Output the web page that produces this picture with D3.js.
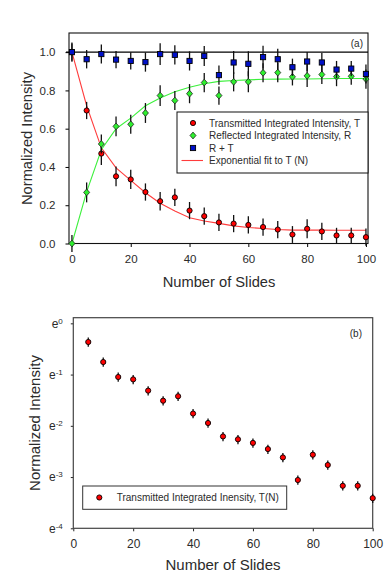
<!DOCTYPE html>
<html>
<head>
<meta charset="utf-8">
<script src="https://cdn.jsdelivr.net/npm/d3@7"></script>
<style>
  body { margin: 0; background: #fff; }
  svg { display: block; font-family: "Liberation Sans", Arial, sans-serif; }
</style>
</head>
<body>
<svg id="chart" width="391" height="577"></svg>
<script>
// number of slides for every measurement
const slides = [0, 5, 10, 15, 20, 25, 30, 35, 40, 45, 50, 55, 60, 65, 70, 75, 80, 85, 90, 95, 100];

// (a) transmitted, reflected and their sum, with error bars
const transmitted = [1.0, 0.695, 0.47, 0.351, 0.335, 0.269, 0.221, 0.241, 0.172, 0.143, 0.11,
  0.104, 0.097, 0.086, 0.073, 0.047, 0.077, 0.063, 0.042, 0.042, 0.033];
const transmittedErr = [0.045, 0.045, 0.06, 0.052, 0.05, 0.045, 0.048, 0.045, 0.045, 0.045, 0.045,
  0.045, 0.045, 0.045, 0.045, 0.044, 0.05, 0.045, 0.04, 0.04, 0.045];
const reflected = [0.0, 0.267, 0.52, 0.612, 0.623, 0.682, 0.773, 0.747, 0.783, 0.841, 0.773,
  0.845, 0.845, 0.892, 0.893, 0.871, 0.876, 0.883, 0.872, 0.874, 0.859];
const reflectedErr = [0.045, 0.052, 0.05, 0.052, 0.05, 0.052, 0.054, 0.05, 0.05, 0.05, 0.048,
  0.05, 0.055, 0.05, 0.05, 0.045, 0.058, 0.05, 0.05, 0.045, 0.05];
const total = [1.0, 0.963, 0.99, 0.961, 0.954, 0.948, 0.99, 0.986, 0.954, 0.98, 0.88,
  0.946, 0.939, 0.974, 0.963, 0.921, 0.951, 0.946, 0.909, 0.914, 0.886];
const totalErr = [0.05, 0.048, 0.05, 0.045, 0.045, 0.05, 0.057, 0.05, 0.05, 0.052, 0.05,
  0.06, 0.065, 0.06, 0.055, 0.045, 0.05, 0.05, 0.045, 0.04, 0.05];

// fitted curves as drawn in (a)
const fitT = [1.0, 0.72, 0.5, 0.395, 0.33, 0.265, 0.21, 0.17, 0.135, 0.118, 0.105,
  0.092, 0.084, 0.078, 0.073, 0.07, 0.07, 0.07, 0.069, 0.069, 0.069];
const fitR = [0.0, 0.27, 0.49, 0.6, 0.655, 0.72, 0.76, 0.793, 0.817, 0.835, 0.847,
  0.852, 0.855, 0.858, 0.859, 0.86, 0.86, 0.861, 0.862, 0.862, 0.862];

// (b) relative error of T on the log plot
const logErr = 0.09;

const xTicks = [0, 20, 40, 60, 80, 100];
const yTicksA = [0, 0.2, 0.4, 0.6, 0.8, 1.0];
const yTicksB = [-4, -3, -2, -1, 0];

const legendA = [
  {label: 'Transmitted Integrated Intensity, T', type: 'circle'},
  {label: 'Reflected Integrated Intensity, R', type: 'diamond'},
  {label: 'R + T', type: 'square'},
  {label: 'Exponential fit to T (N)', type: 'line'}
];
const legendB = 'Transmitted Integrated Inensity, T(N)';

const textColor = '#2b2b2b';
const red = '#ff0000', green = '#2ef02e', blue = '#0010c8';

const svg = d3.select('#chart');

function marker(g, type, x, y, fill) {
    if (type === 'circle') {
        g.append('circle').attr('cx', x).attr('cy', y).attr('r', 2.6)
            .attr('fill', fill).attr('stroke', '#000').attr('stroke-width', 0.9);
    } else if (type === 'square') {
        g.append('rect').attr('x', x - 2.6).attr('y', y - 2.6)
            .attr('width', 5.2).attr('height', 5.2)
            .attr('fill', fill).attr('stroke', '#000').attr('stroke-width', 0.9);
    } else if (type === 'diamond') {
        g.append('path')
            .attr('d', 'M' + x + ',' + (y - 3.4) + 'L' + (x + 3) + ',' + y +
                'L' + x + ',' + (y + 3.4) + 'L' + (x - 3) + ',' + y + 'Z')
            .attr('fill', fill).attr('stroke', '#222').attr('stroke-width', 0.8);
    }
}

// ---------------- chart (a) ----------------
const xA = d3.scaleLinear().domain([-1, 100.7]).range([69, 368]);
const yA = d3.scaleLinear().domain([0, 1.1]).range([243.5, 33]);

const gA = svg.append('g');

gA.append('g')
    .attr('transform', 'translate(0,243.5)')
    .call(d3.axisBottom(xA).tickValues(xTicks).tickSize(3.5).tickPadding(8))
    .call(g => g.select('.domain').remove());
gA.append('g')
    .attr('transform', 'translate(69,0)')
    .call(d3.axisLeft(yA).tickValues(yTicksA).tickSize(3.5).tickPadding(10)
        .tickFormat(d3.format('.1f')))
    .call(g => g.select('.domain').remove());
gA.selectAll('.tick line').attr('stroke', '#000');
gA.selectAll('.tick text').attr('fill', textColor).attr('font-size', '11.5px')
    .attr('font-family', '"Liberation Sans", Arial, sans-serif');

gA.append('rect').attr('x', 69).attr('y', 33).attr('width', 299).attr('height', 210.5)
    .attr('fill', 'none').attr('stroke', '#111').attr('stroke-width', 1.1);

// reference line at 1.0
gA.append('line').attr('x1', 66).attr('x2', 368)
    .attr('y1', yA(1)).attr('y2', yA(1)).attr('stroke', '#000').attr('stroke-width', 1.1);

const lineA = d3.line().x((d, i) => xA(slides[i])).y(d => yA(d));
gA.append('path').attr('d', lineA(fitT)).attr('fill', 'none')
    .attr('stroke', '#ff3c3c').attr('stroke-width', 1.1);
gA.append('path').attr('d', lineA(fitR)).attr('fill', 'none')
    .attr('stroke', '#3cf03c').attr('stroke-width', 1.1);

function seriesA(values, errs, type, fill) {
    const g = gA.append('g');
    values.forEach((v, i) => {
        g.append('line').attr('x1', xA(slides[i])).attr('x2', xA(slides[i]))
            .attr('y1', yA(v - errs[i])).attr('y2', yA(v + errs[i]))
            .attr('stroke', '#111').attr('stroke-width', 1.3);
    });
    values.forEach((v, i) => marker(g, type, xA(slides[i]), yA(v), fill));
}
seriesA(transmitted, transmittedErr, 'circle', red);
seriesA(reflected, reflectedErr, 'diamond', green);
seriesA(total, totalErr, 'square', blue);

// legend (a)
const legA = gA.append('g');
legA.append('rect').attr('x', 177).attr('y', 112).attr('width', 191).attr('height', 61)
    .attr('fill', '#fff').attr('stroke', '#111').attr('stroke-width', 1);
legendA.forEach((d, i) => {
    const y = 123 + i * 12.5;
    const fills = [red, green, blue];
    if (d.type === 'line') {
        legA.append('line').attr('x1', 181.5).attr('x2', 203).attr('y1', y).attr('y2', y)
            .attr('stroke', '#ff3c3c').attr('stroke-width', 1.1);
    } else {
        marker(legA, d.type, 193, y, fills[i]);
    }
    legA.append('text').attr('x', 209).attr('y', y + 3.6)
        .attr('font-size', '10px').attr('fill', textColor).text(d.label);
});

gA.append('text').attr('x', 363).attr('y', 46.5).attr('text-anchor', 'end')
    .attr('font-size', '10px').attr('fill', textColor).text('(a)');

gA.append('text').attr('x', 219).attr('y', 286.5).attr('text-anchor', 'middle')
    .attr('font-size', '14.7px').attr('fill', textColor).text('Number of Slides');
gA.append('text').attr('transform', 'translate(31.5,138.5) rotate(-90)')
    .attr('text-anchor', 'middle').attr('font-size', '14.7px').attr('fill', textColor)
    .text('Normalized Intensity');

// ---------------- chart (b) ----------------
const xB = d3.scaleLinear().domain([0, 100]).range([73.3, 372.7]);
const yB = d3.scaleLog().base(Math.E).domain([Math.exp(-4), Math.exp(0.11)]).range([528.3, 317.7]);

const gB = svg.append('g');

gB.append('g')
    .attr('transform', 'translate(0,528.3)')
    .call(d3.axisBottom(xB).tickValues(xTicks).tickSize(3).tickPadding(8.5))
    .call(g => g.select('.domain').remove());
gB.append('g')
    .attr('transform', 'translate(73.3,0)')
    .call(d3.axisLeft(yB).tickValues(yTicksB.map(p => Math.exp(p))).tickSize(2.5).tickPadding(8)
        .tickFormat(() => ''))
    .call(g => g.select('.domain').remove())
    .call(g => g.selectAll('.tick text').each(function(d) {
        const t = d3.select(this);
        t.append('tspan').text('e');
        t.append('tspan').attr('dy', '-0.5em').attr('font-size', '8px')
            .text(Math.round(Math.log(d)));
    }));
gB.selectAll('.tick line').attr('stroke', '#222');
gB.selectAll('.tick text').attr('fill', textColor).attr('font-size', '12px')
    .attr('font-family', '"Liberation Sans", Arial, sans-serif');

gB.append('rect').attr('x', 73.3).attr('y', 317.7).attr('width', 299.4).attr('height', 210.6)
    .attr('fill', 'none').attr('stroke', '#444').attr('stroke-width', 1.2);

const gPts = gB.append('g');
slides.forEach((s, i) => {
    if (s === 0) return;
    const v = transmitted[i];
    gPts.append('line').attr('x1', xB(s)).attr('x2', xB(s))
        .attr('y1', yB(v * (1 - logErr))).attr('y2', yB(v * (1 + logErr)))
        .attr('stroke', '#111').attr('stroke-width', 1.3);
});
slides.forEach((s, i) => {
    if (s === 0) return;
    marker(gPts, 'circle', xB(s), yB(transmitted[i]), red);
});

// legend (b)
gB.append('rect').attr('x', 82.7).attr('y', 486).attr('width', 204).attr('height', 23.3)
    .attr('fill', '#fff').attr('stroke', '#333').attr('stroke-width', 1);
marker(gB, 'circle', 99.3, 497.5, red);
gB.append('text').attr('x', 116.7).attr('y', 501).attr('font-size', '10px')
    .attr('fill', textColor).text(legendB);

gB.append('text').attr('x', 362).attr('y', 336.5).attr('text-anchor', 'end')
    .attr('font-size', '10px').attr('fill', textColor).text('(b)');

gB.append('text').attr('x', 223).attr('y', 570).attr('text-anchor', 'middle')
    .attr('font-size', '15px').attr('fill', textColor).text('Number of Slides');
gB.append('text').attr('transform', 'translate(40,423) rotate(-90)')
    .attr('text-anchor', 'middle').attr('font-size', '15px').attr('fill', textColor)
    .text('Normalized Intensity');
</script>
</body>
</html>
